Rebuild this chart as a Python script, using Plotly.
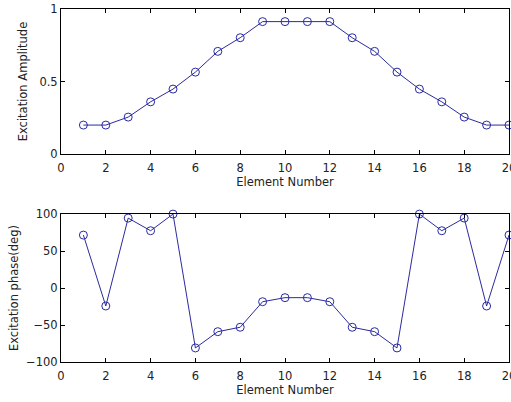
import plotly.graph_objects as go

element = list(range(1, 21))
amplitude = [0.2, 0.2, 0.255, 0.36, 0.448, 0.565, 0.708, 0.802, 0.913, 0.913,
             0.913, 0.913, 0.802, 0.708, 0.565, 0.448, 0.36, 0.255, 0.2, 0.2]
phase = [71.6, -24.3, 94.6, 77.5, 100, -81, -59, -53, -18.5, -13,
         -13, -18.5, -53, -59, -81, 100, 77.5, 94.6, -24.3, 71.6]

x_ticks = [0, 2, 4, 6, 8, 10, 12, 14, 16, 18, 20]
amp_ticks = [0, 0.5, 1]
amp_labels = ["0", "0.5", "1"]
phase_ticks = [-100, -50, 0, 50, 100]

color = "#2a2aa0"
font = dict(family="DejaVu Sans, Liberation Sans, Arial, sans-serif", size=11.5, color="#222222")

fig = go.Figure()
for xs, ys, xa, ya in [(element, amplitude, "x", "y"), (element, phase, "x2", "y2")]:
    fig.add_trace(go.Scatter(x=xs, y=ys, mode="lines+markers",
                             line=dict(color=color, width=1),
                             marker=dict(symbol="circle-open", size=8, color=color,
                                         line=dict(width=1, color=color)),
                             xaxis=xa, yaxis=ya, cliponaxis=False, showlegend=False))

axcommon = dict(showgrid=False, zeroline=False, showline=True, linecolor="#000000", linewidth=1,
                mirror="ticks", ticks="inside", ticklen=4, tickcolor="#000000", tickfont=font,
                automargin=False, ticklabeloverflow="allow")

fig.update_layout(
    width=511, height=402,
    margin=dict(l=61, r=2, t=9, b=40),
    paper_bgcolor="white", plot_bgcolor="white",
    font=font,
    xaxis=dict(domain=[0, 1], range=[0, 20], tickvals=x_ticks, anchor="y", ticklabelstandoff=3,
               title=dict(text="Element Number", font=font, standoff=4), **axcommon),
    yaxis=dict(domain=[0.589, 1], range=[0, 1], tickvals=amp_ticks, ticktext=amp_labels, anchor="x",
               title=dict(text="Excitation Amplitude", font=font, standoff=9), **axcommon),
    xaxis2=dict(domain=[0, 1], range=[0, 20], tickvals=x_ticks, anchor="y2", ticklabelstandoff=3,
                title=dict(text="Element Number", font=font, standoff=4), **axcommon),
    yaxis2=dict(domain=[0, 0.419], range=[-100, 100], tickvals=phase_ticks, anchor="x2",
                title=dict(text="Excitation phase(deg)", font=font, standoff=5), **axcommon),
)

fig.write_html("out.html", config={"displayModeBar": False},
               post_script="document.body.style.margin='0';document.body.style.overflow='hidden';")
